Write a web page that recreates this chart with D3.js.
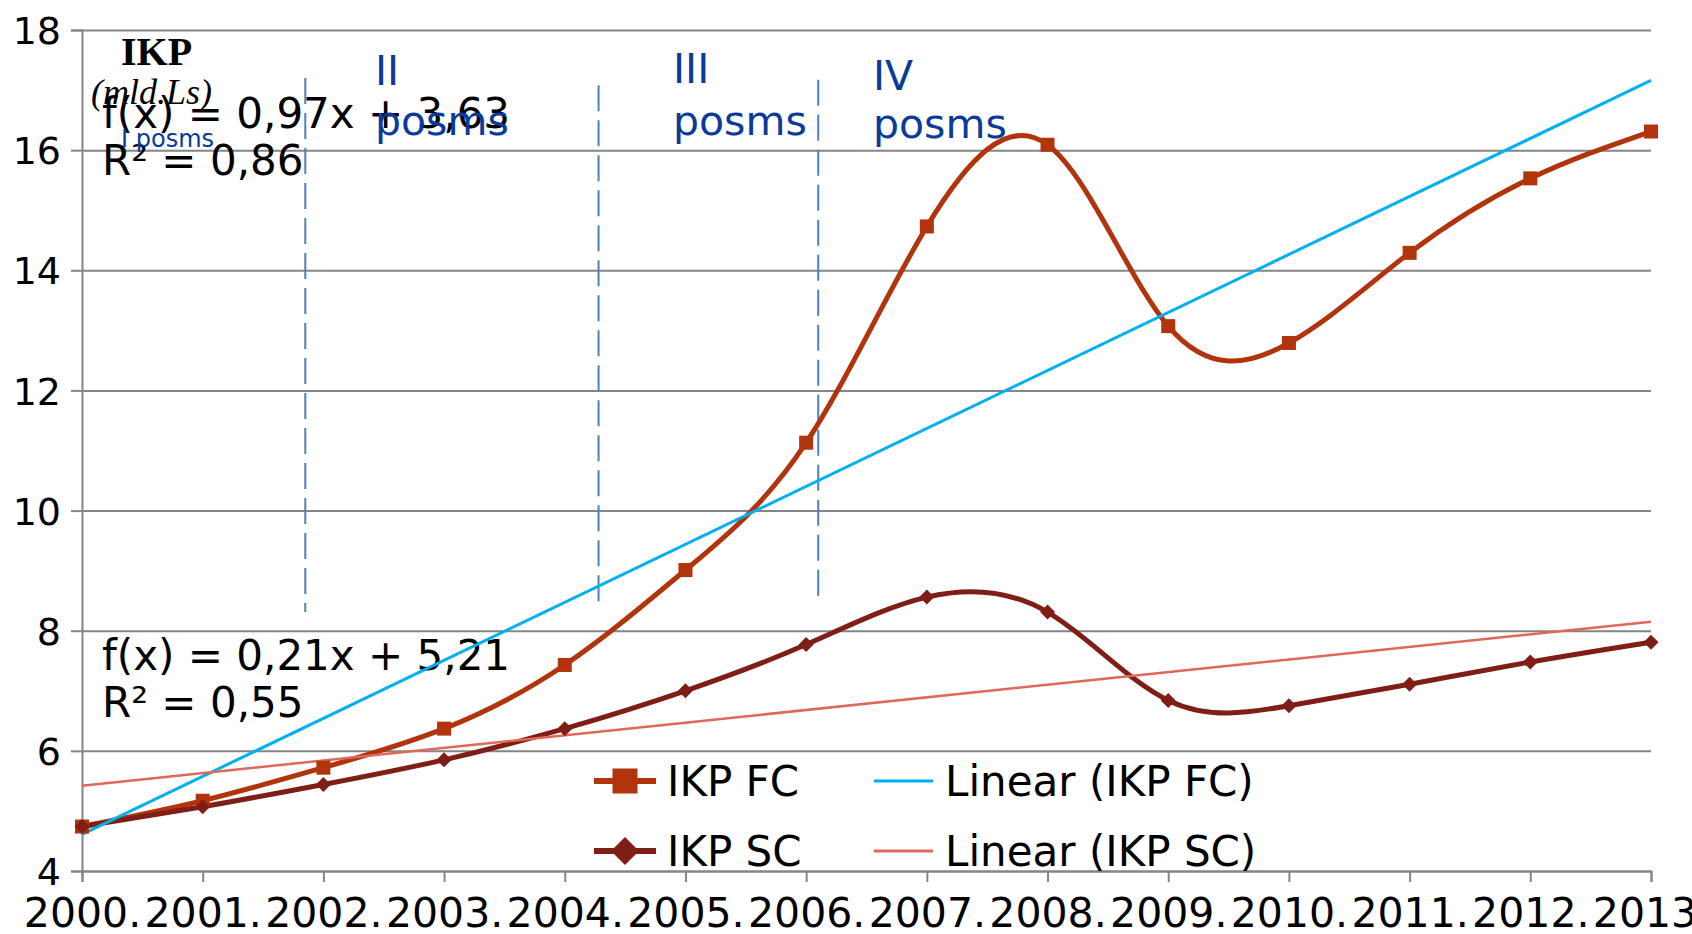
<!DOCTYPE html>
<html>
<head>
<meta charset="utf-8">
<script src="https://cdn.jsdelivr.net/npm/d3@7"></script>
<style>
  html, body { margin: 0; padding: 0; background: #fff; }
  svg { display: block; }
</style>
</head>
<body>
<svg id="chart" width="1692" height="934"></svg>
<script>
// ---- data ----
const years = [2000, 2001, 2002, 2003, 2004, 2005, 2006, 2007, 2008, 2009, 2010, 2011, 2012, 2013];
const yearLabels = ["2000.", "2001.", "2002.", "2003.", "2004.", "2005.", "2006.", "2007.", "2008.", "2009.", "2010.", "2011.", "2012.", "2013."];
const ikpFC = [4.74, 5.17, 5.72, 6.37, 7.43, 9.01, 11.13, 14.73, 16.09, 13.07, 12.79, 14.29, 15.53, 16.31];
const ikpSC = [4.74, 5.07, 5.44, 5.85, 6.37, 7.00, 7.77, 8.56, 8.31, 6.84, 6.75, 7.11, 7.48, 7.81];
const trendFCEnds = [4.61, 17.16];   // Linear (IKP FC) at 2000 and 2013
const trendSCEnds = [5.42, 8.15];    // Linear (IKP SC) at 2000 and 2013
const yTicks = [4, 6, 8, 10, 12, 14, 16, 18];
const eqFC = ["f(x) = 0,97x + 3,63", "R² = 0,86"];
const eqSC = ["f(x) = 0,21x + 5,21", "R² = 0,55"];
const phaseBounds = [2001.85, 2004.28, 2006.10];
const phaseTop = [17.2, 17.08, 17.17];
const phaseBottom = [8.31, 8.34, 8.44];
const legendItems = ["IKP FC", "IKP SC", "Linear (IKP FC)", "Linear (IKP SC)"];

(function () {
// ---- layout ----
const svg = d3.select("#chart");
const pLeft = 82, pRight = 1651, pTop = 30, pBottom = 871;
const x = d3.scaleLinear().domain([2000, 2013]).range([pLeft, pRight]);
const y = d3.scaleLinear().domain([4, 18]).range([pBottom, pTop]);

const C_FC = "#b1340c", C_SC = "#7e1e16", C_TFC = "#00b0f0", C_TSC = "#e0685a";
const GRID = "#858585";
const SANS = "'DejaVu Sans', Verdana, sans-serif";

// gridlines
const grid = svg.append("g").attr("transform", `translate(${pLeft},0)`)
  .call(d3.axisLeft(y).tickValues(yTicks).tickSize(-(pRight - pLeft)).tickFormat(""));
grid.select(".domain").remove();
grid.selectAll("line").attr("stroke", GRID).attr("stroke-width", 2);

// y axis
const yAxis = svg.append("g").attr("transform", `translate(${pLeft},0)`)
  .call(d3.axisLeft(y).tickValues(yTicks).tickSize(11).tickPadding(10).tickFormat(d3.format("d")));
yAxis.select(".domain").attr("stroke", GRID).attr("stroke-width", 2);
yAxis.selectAll("line").attr("stroke", GRID).attr("stroke-width", 2);
yAxis.selectAll("text").attr("font-family", SANS).attr("font-size", 38).attr("fill", "#000").attr("dy", "0.36em");

// x axis
const xAxis = svg.append("g").attr("transform", `translate(0,${pBottom})`)
  .call(d3.axisBottom(x).tickValues(years).tickSize(11).tickFormat((d, i) => yearLabels[i]));
xAxis.select(".domain").attr("stroke", GRID).attr("stroke-width", 2);
xAxis.selectAll("line").attr("stroke", GRID).attr("stroke-width", 2);
xAxis.selectAll("text").attr("font-family", SANS).attr("font-size", 41).attr("fill", "#000")
  .attr("y", 56).attr("dy", 0);

// phase dashed lines
svg.append("g").selectAll("line").data(phaseBounds).join("line")
  .attr("x1", d => x(d)).attr("x2", d => x(d))
  .attr("y1", (d, i) => y(phaseTop[i])).attr("y2", (d, i) => y(phaseBottom[i]))
  .attr("stroke", "#4f81bd").attr("stroke-width", 2).attr("stroke-dasharray", "26,9");

// equations
const eqG = svg.append("g").attr("font-family", SANS).attr("font-size", 42).attr("fill", "#000");
eqFC.forEach((t, i) => eqG.append("text").attr("x", 102).attr("y", 128 + i * 47).text(t));
eqSC.forEach((t, i) => eqG.append("text").attr("x", 102).attr("y", 670 + i * 47).text(t));

// series lines
const line = d3.line().x((d, i) => x(years[i])).y(d => y(d)).curve(d3.curveNatural);
svg.append("path").datum(ikpFC).attr("d", line).attr("fill", "none").attr("stroke", C_FC).attr("stroke-width", 5);
svg.append("path").datum(ikpSC).attr("d", line).attr("fill", "none").attr("stroke", C_SC).attr("stroke-width", 5);

// trend lines
const trendX = [years[0], years[years.length - 1]];
svg.append("line").attr("x1", x(trendX[0])).attr("x2", x(trendX[1]))
  .attr("y1", y(trendFCEnds[0])).attr("y2", y(trendFCEnds[1]))
  .attr("stroke", C_TFC).attr("stroke-width", 3);
svg.append("line").attr("x1", x(trendX[0])).attr("x2", x(trendX[1]))
  .attr("y1", y(trendSCEnds[0])).attr("y2", y(trendSCEnds[1]))
  .attr("stroke", C_TSC).attr("stroke-width", 2.5);

// markers
const sq = 14;
svg.append("g").selectAll("rect").data(ikpFC).join("rect")
  .attr("x", (d, i) => x(years[i]) - sq / 2).attr("y", d => y(d) - sq / 2)
  .attr("width", sq).attr("height", sq).attr("fill", C_FC);
const dh = 7.5;
svg.append("g").selectAll("path").data(ikpSC).join("path")
  .attr("transform", (d, i) => `translate(${x(years[i])},${y(d)})`)
  .attr("d", `M0,${-dh}L${dh},0L0,${dh}L${-dh},0Z`).attr("fill", C_SC);

// title annotations
svg.append("text").attr("x", 121).attr("y", 65).attr("font-family", "'Liberation Serif', 'Times New Roman', serif")
  .attr("font-weight", "bold").attr("font-size", 40).text("IKP");
svg.append("text").attr("x", 91).attr("y", 104).attr("font-family", "'Liberation Serif', 'Times New Roman', serif")
  .attr("font-style", "italic").attr("font-size", 36).text("(mld.Ls)");

// phase labels
const BLUE = "#0a3a9a";
const ph = svg.append("g").attr("font-family", SANS).attr("fill", BLUE);
ph.append("text").attr("x", 121).attr("y", 147).attr("font-size", 24).text("I posms");
[["II", 375, 85, 135], ["III", 673, 83, 135], ["IV", 873, 90, 138]].forEach(([t, px, y1, y2]) => {
  ph.append("text").attr("x", px).attr("y", y1).attr("font-size", 41).text(t);
  ph.append("text").attr("x", px).attr("y", y2).attr("font-size", 41).text("posms");
});

// legend
const lg = svg.append("g").attr("font-family", SANS).attr("font-size", 42).attr("fill", "#000");
const row1 = 781, row2 = 851;
lg.append("line").attr("x1", 594).attr("x2", 656).attr("y1", row1).attr("y2", row1).attr("stroke", C_FC).attr("stroke-width", 6);
lg.append("rect").attr("x", 625 - 12.5).attr("y", row1 - 12.5).attr("width", 25).attr("height", 25).attr("fill", C_FC);
lg.append("text").attr("x", 667).attr("y", row1 + 15).text(legendItems[0]);
lg.append("line").attr("x1", 594).attr("x2", 656).attr("y1", row2).attr("y2", row2).attr("stroke", C_SC).attr("stroke-width", 6);
lg.append("path").attr("transform", `translate(625,${row2})`).attr("d", "M0,-14L14,0L0,14L-14,0Z").attr("fill", C_SC);
lg.append("text").attr("x", 667).attr("y", row2 + 15).text(legendItems[1]);
lg.append("line").attr("x1", 874).attr("x2", 933).attr("y1", row1).attr("y2", row1).attr("stroke", C_TFC).attr("stroke-width", 3);
lg.append("text").attr("x", 945).attr("y", row1 + 15).text(legendItems[2]);
lg.append("line").attr("x1", 874).attr("x2", 933).attr("y1", row2).attr("y2", row2).attr("stroke", C_TSC).attr("stroke-width", 3);
lg.append("text").attr("x", 945).attr("y", row2 + 15).text(legendItems[3]);
})();
</script>
</body>
</html>
